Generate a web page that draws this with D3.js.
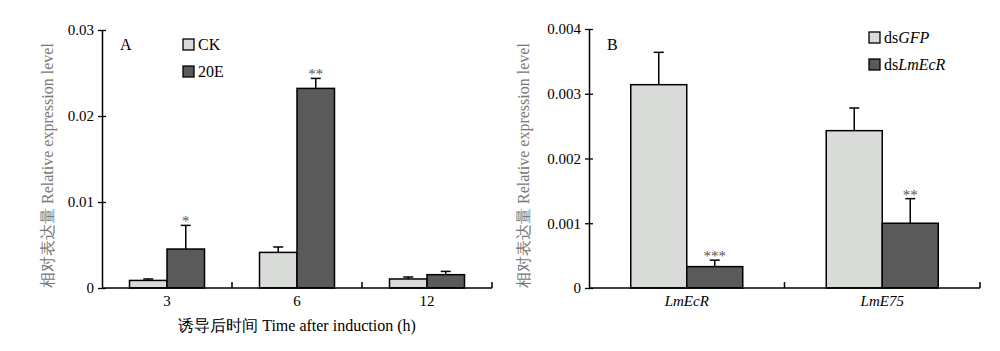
<!DOCTYPE html>
<html lang="en">
<head>
    <meta charset="UTF-8">
    <title>Relative expression</title>
    <style>
        body { margin: 0; background: #fff; }
        svg, svg text { font-family: 'Liberation Serif', Tinos, 'DejaVu Serif', serif !important; }
        .ylab { fill: #777; }
        .star { fill: #555; font-size: 15px; }
    </style>
    <script src="https://d3js.org/d3.v7.min.js"></script>
</head>
<body>
<svg id="chart" width="1000" height="351"></svg>

<script>
    // panel A
    const groupsA = ["3", "6", "12"];
    const seriesA = ["CK", "20E"];
    const ckVals = [0.00088, 0.00414, 0.00105];
    const ckErr = [0.00017, 0.00063, 0.00023];
    const e20Vals = [0.00453, 0.02321, 0.00155];
    const e20Err = [0.00275, 0.00116, 0.00038];
    const e20Stars = ["*", "**", ""];
    const ticksA = [0, 0.01, 0.02, 0.03];

    // panel B
    const groupsB = ["LmEcR", "LmE75"];
    const seriesB = ["GFP", "LmEcR"];
    const gfpVals = [0.00314, 0.00243];
    const gfpErr = [0.00050, 0.00035];
    const lmVals = [0.00033, 0.00100];
    const lmErr = [0.00010, 0.00038];
    const lmStars = ["***", "**"];
    const ticksB = [0, 0.001, 0.002, 0.003, 0.004];

    const light = "#d9dbd9", dark = "#5a5a5a";
    const svg = d3.select("#chart");

    function panel(o) {
        const g = svg.append("g");
        const y = d3.scaleLinear().domain(o.yDomain).range([288, o.yTop]);
        const x = d3.scaleBand().domain(o.groups).range([o.left, o.right]);
        const inner = d3.scaleBand().domain([0, 1]).range([0, o.barW * 2]);
        const off = (x.bandwidth() - o.barW * 2) / 2;

        // y axis
        const ya = g.append("g")
            .attr("transform", `translate(${o.left},0)`)
            .call(d3.axisLeft(y).tickValues(o.ticks).tickSize(4).tickSizeOuter(0)
                .tickFormat(d => d === 0 ? "0" : d3.format(o.fmt)(d)));
        ya.attr("font-family", null);
        ya.select(".domain").attr("stroke", "#000").attr("stroke-width", 1.5);
        ya.selectAll(".tick line").attr("x1", -4).attr("x2", 4).attr("stroke-width", 1.3);
        ya.selectAll(".tick text").attr("x", -8).attr("font-size", 15).attr("fill", "#000");

        // bars
        const rows = [];
        o.groups.forEach((grp, i) => {
            rows.push({grp, s: 0, v: o.a[i], e: o.aErr[i], star: ""});
            rows.push({grp, s: 1, v: o.b[i], e: o.bErr[i], star: o.stars[i]});
        });
        rows.forEach(d => {
            const bx = x(d.grp) + off + inner(d.s);
            const cx = bx + o.barW / 2;
            g.append("line")
                .attr("x1", cx).attr("x2", cx)
                .attr("y1", y(d.v)).attr("y2", y(d.v + d.e))
                .attr("stroke", "#000").attr("stroke-width", 1.5);
            g.append("line")
                .attr("x1", cx - 5).attr("x2", cx + 5)
                .attr("y1", y(d.v + d.e)).attr("y2", y(d.v + d.e))
                .attr("stroke", "#000").attr("stroke-width", 1.5);
            g.append("rect")
                .attr("x", bx).attr("width", o.barW)
                .attr("y", y(d.v)).attr("height", y(0) - y(d.v))
                .attr("fill", d.s === 0 ? light : dark)
                .attr("stroke", "#000").attr("stroke-width", 1.5);
            if (d.star) {
                g.append("text").attr("class", "star")
                    .attr("x", cx).attr("y", y(d.v + d.e) + 1)
                    .attr("text-anchor", "middle").text(d.star);
            }
        });

        // x axis
        g.append("line").attr("x1", o.left).attr("x2", o.right)
            .attr("y1", y(0)).attr("y2", y(0))
            .attr("stroke", "#000").attr("stroke-width", 1.5);
        o.groups.forEach(grp => {
            const tx = x(grp) + x.bandwidth();
            g.append("line").attr("x1", tx).attr("x2", tx)
                .attr("y1", y(0)).attr("y2", y(0) - 6)
                .attr("stroke", "#000").attr("stroke-width", 1.5);
            g.append("text")
                .attr("x", x(grp) + x.bandwidth() / 2).attr("y", 306)
                .attr("text-anchor", "middle").attr("font-size", 15)
                .attr("font-style", o.italicCats ? "italic" : "normal")
                .text(grp);
        });

        // y label
        g.append("text").attr("class", "ylab")
            .attr("transform", `translate(${o.ylabX},288) rotate(-90)`)
            .attr("font-size", 16)
            .text("相对表达量 Relative expression level");

        // panel letter
        g.append("text").attr("x", o.left + 18).attr("y", 50)
            .attr("font-size", 16).text(o.letter);

        // legend
        o.legend.forEach((l, i) => {
            const ly = o.legY + i * 27;
            g.append("rect").attr("x", o.legX).attr("y", ly)
                .attr("width", 11).attr("height", 11)
                .attr("fill", i === 0 ? light : dark)
                .attr("stroke", "#000").attr("stroke-width", 1.3);
            const t = g.append("text").attr("x", o.legX + 15).attr("y", ly + 11)
                .attr("font-size", 16);
            l.forEach(part => t.append("tspan")
                .attr("font-style", part[1] ? "italic" : "normal").text(part[0]));
        });
        return {x, y};
    }

    panel({
        groups: groupsA, a: ckVals, aErr: ckErr, b: e20Vals, bErr: e20Err, stars: e20Stars,
        yDomain: [0, 0.03], yTop: 30, ticks: ticksA, fmt: ".2f",
        left: 102, right: 492, barW: 37.5, ylabX: 53, letter: "A",
        legX: 183, legY: 39,
        legend: [[[seriesA[0], false]], [[seriesA[1], false]]],
        italicCats: false
    });
    svg.append("text")
        .attr("x", 297).attr("y", 331).attr("text-anchor", "middle")
        .attr("font-size", 16)
        .text("诱导后时间 Time after induction (h)");

    panel({
        groups: groupsB, a: gfpVals, aErr: gfpErr, b: lmVals, bErr: lmErr, stars: lmStars,
        yDomain: [0, 0.004], yTop: 29, ticks: ticksB, fmt: ".3f",
        left: 589, right: 980, barW: 56, ylabX: 529, letter: "B",
        legX: 869, legY: 32,
        legend: [[["ds", false], [seriesB[0], true]], [["ds", false], [seriesB[1], true]]],
        italicCats: true
    });
</script>
</body>
</html>
